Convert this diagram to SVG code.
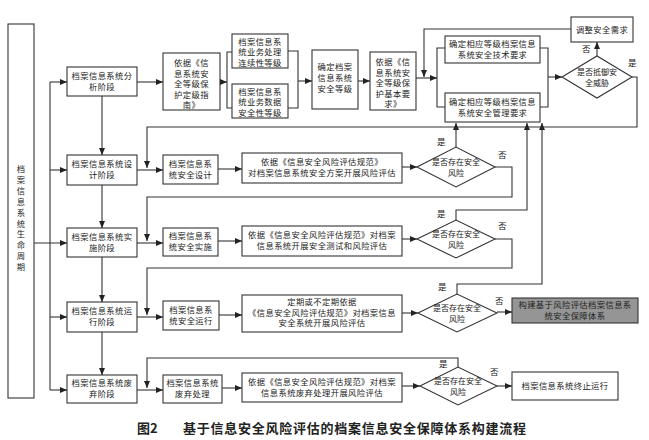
<svg xmlns="http://www.w3.org/2000/svg" width="649" height="440" viewBox="0 0 649 440">
<style>
.b{fill:#fff;stroke:#333;stroke-width:1.1}
.g{fill:#959595;stroke:#333;stroke-width:1.1}
.t{font-family:"Noto Sans CJK SC","Noto Sans",sans-serif;font-size:8.3px;fill:#222;text-anchor:middle;letter-spacing:0.4px}
.d{font-family:"Noto Sans CJK SC","Noto Sans",sans-serif;font-size:8px;fill:#222;text-anchor:middle}
.l{font-family:"Noto Sans CJK SC","Noto Sans",sans-serif;font-size:8.5px;fill:#222}
.c{fill:none;stroke:#333;stroke-width:1.1}
.cap{font-family:"Noto Sans CJK SC","Noto Sans",sans-serif;font-size:13px;font-weight:bold;fill:#222}
</style>
<defs>
<marker id="a" markerUnits="userSpaceOnUse" markerWidth="7" markerHeight="6" refX="7" refY="3" orient="auto">
<path d="M0,0 L7,3 L0,6 z" fill="#222"/>
</marker>
</defs>
<rect width="649" height="440" fill="#fff"/>

<g id="lifecycle">
<rect class="b" x="8" y="24" width="26" height="374"/>
<text class="t" x="21" y="172"><tspan x="21">档</tspan><tspan x="21" dy="10.9">案</tspan><tspan x="21" dy="10.9">信</tspan><tspan x="21" dy="10.9">息</tspan><tspan x="21" dy="10.9">系</tspan><tspan x="21" dy="10.9">统</tspan><tspan x="21" dy="10.9">生</tspan><tspan x="21" dy="10.9">命</tspan><tspan x="21" dy="10.9">周</tspan><tspan x="21" dy="10.9">期</tspan></text>
</g>

<g id="stage1"><rect class="b" x="67" y="67" width="70" height="29"/><text class="t" x="102" y="79">档案信息系统分<tspan x="102" dy="11">析阶段</tspan></text></g>
<g id="stage2"><rect class="b" x="67" y="155" width="70" height="30"/><text class="t" x="102" y="167">档案信息系统设<tspan x="102" dy="11">计阶段</tspan></text></g>
<g id="stage3"><rect class="b" x="67" y="228" width="70" height="29"/><text class="t" x="102" y="240">档案信息系统实<tspan x="102" dy="11">施阶段</tspan></text></g>
<g id="stage4"><rect class="b" x="67" y="302" width="70" height="30"/><text class="t" x="102" y="314">档案信息系统运<tspan x="102" dy="11">行阶段</tspan></text></g>
<g id="stage5"><rect class="b" x="67" y="375" width="70" height="28"/><text class="t" x="102" y="386">档案信息系统废<tspan x="102" dy="11">弃阶段</tspan></text></g>

<g id="guide1"><rect class="b" x="163" y="53" width="57" height="57"/><text class="t" x="191.5" y="66">依据《信<tspan x="191.5" dy="10.5">息系统安</tspan><tspan x="191.5" dy="10.5">全等级保</tspan><tspan x="191.5" dy="10.5">护定级指</tspan><tspan x="191.5" dy="10.5">南》</tspan></text></g>
<g id="level1"><rect class="b" x="232" y="34" width="56" height="34"/><text class="t" x="260" y="44.5">档案信息系<tspan x="260" dy="10.5">统业务处理</tspan><tspan x="260" dy="10.5">连续性等级</tspan></text></g>
<g id="level2"><rect class="b" x="232" y="84" width="56" height="34"/><text class="t" x="260" y="94.5">档案信息系<tspan x="260" dy="10.5">统业务数据</tspan><tspan x="260" dy="10.5">安全性等级</tspan></text></g>
<g id="determine"><rect class="b" x="312" y="50" width="46" height="59"/><text class="t" x="335" y="70">确定档案<tspan x="335" dy="11">信息系统</tspan><tspan x="335" dy="11">安全等级</tspan></text></g>
<g id="guide2"><rect class="b" x="370" y="52" width="46" height="58"/><text class="t" x="393" y="65">依据《信<tspan x="393" dy="10.5">息系统安</tspan><tspan x="393" dy="10.5">全等级保</tspan><tspan x="393" dy="10.5">护基本要</tspan><tspan x="393" dy="10.5">求》</tspan></text></g>
<g id="techreq"><rect class="b" x="445" y="36" width="95" height="27"/><text class="t" x="492.5" y="47">确定相应等级档案信息<tspan x="492.5" dy="11">系统安全技术要求</tspan></text></g>
<g id="mgmtreq"><rect class="b" x="445" y="93" width="95" height="29"/><text class="t" x="492.5" y="105">确定相应等级档案信息<tspan x="492.5" dy="11">系统安全管理要求</tspan></text></g>
<g id="threat"><polygon class="b" points="562,77 597,56 632,77 597,98"/><text class="d" x="597" y="75">是否抵御安<tspan x="597" dy="11">全威胁</tspan></text></g>
<g id="adjust"><rect class="b" x="571" y="17" width="62" height="25"/><text class="t" x="602" y="32.5">调整安全需求</text></g>

<g id="design"><rect class="b" x="163" y="155" width="55" height="29"/><text class="t" x="190.5" y="167">档案信息系<tspan x="190.5" dy="11">统安全设计</tspan></text></g>
<g id="assess2"><rect class="b" x="242" y="153" width="160" height="30"/><text class="t" x="322" y="165">依据《信息安全风险评估规范》<tspan x="322" dy="11">对档案信息系统安全方案开展风险评估</tspan></text></g>
<g id="risk2"><polygon class="b" points="417,167 456,147 495,167 456,187"/><text class="d" x="456" y="165">是否存在安全<tspan x="456" dy="11">风险</tspan></text></g>

<g id="implement"><rect class="b" x="163" y="228" width="55" height="28"/><text class="t" x="190.5" y="239">档案信息系<tspan x="190.5" dy="11">统安全实施</tspan></text></g>
<g id="assess3"><rect class="b" x="242" y="226" width="160" height="30"/><text class="t" x="322" y="238">依据《信息安全风险评估规范》对档案<tspan x="322" dy="11">信息系统开展安全测试和风险评估</tspan></text></g>
<g id="risk3"><polygon class="b" points="417,239 456,220 495,239 456,258"/><text class="d" x="456" y="237">是否存在安全<tspan x="456" dy="11">风险</tspan></text></g>

<g id="operate"><rect class="b" x="163" y="301" width="56" height="29"/><text class="t" x="191" y="313">档案信息系<tspan x="191" dy="11">统安全运行</tspan></text></g>
<g id="assess4"><rect class="b" x="242" y="295" width="160" height="37"/><text class="t" x="322" y="305">定期或不定期依据<tspan x="322" dy="10.5">《信息安全风险评估规范》对档案信息</tspan><tspan x="322" dy="10.5">安全系统开展风险评估</tspan></text></g>
<g id="risk4"><polygon class="b" points="418,313 457,294 497,313 457,332"/><text class="d" x="457" y="311">是否存在安全<tspan x="457" dy="11">风险</tspan></text></g>
<g id="build"><rect class="g" x="512" y="298" width="126" height="25"/><text class="t" x="575" y="308">构建基于风险评估档案信息系<tspan x="575" dy="11">统安全保障体系</tspan></text></g>

<g id="dispose"><rect class="b" x="163" y="375" width="59" height="28"/><text class="t" x="192.5" y="386">档案信息系统<tspan x="192.5" dy="11">废弃处理</tspan></text></g>
<g id="assess5"><rect class="b" x="242" y="373" width="160" height="29"/><text class="t" x="322" y="385">依据《信息安全风险评估规范》对档案<tspan x="322" dy="11">信息系统废弃处理开展风险评估</tspan></text></g>
<g id="risk5"><polygon class="b" points="420,386 458,367 497,386 458,405"/><text class="d" x="458" y="384">是否存在安全<tspan x="458" dy="11">风险</tspan></text></g>
<g id="terminate"><rect class="b" x="512" y="372" width="106" height="28"/><text class="t" x="565" y="389">档案信息系统终止运行</text></g>

<g id="connectors">
<path class="c" d="M50,82 V390"/>
<path class="c" d="M50,82 H67" marker-end="url(#a)"/>
<path class="c" d="M50,170 H67" marker-end="url(#a)"/>
<path class="c" d="M34,243 H67" marker-end="url(#a)"/>
<path class="c" d="M50,317 H67" marker-end="url(#a)"/>
<path class="c" d="M50,390 H67" marker-end="url(#a)"/>
<path class="c" d="M102,96 V155" marker-end="url(#a)"/>
<path class="c" d="M102,185 V228" marker-end="url(#a)"/>
<path class="c" d="M102,257 V302" marker-end="url(#a)"/>
<path class="c" d="M102,332 V375" marker-end="url(#a)"/>

<path class="c" d="M137,82 H163" marker-end="url(#a)"/>
<path class="c" d="M220,82 H227" marker-end="url(#a)"/>
<path class="c" d="M232,52 H227 V108 H232"/>
<path class="c" d="M288,51 H298 V108 H288"/>
<path class="c" d="M298,81 H312" marker-end="url(#a)"/>
<path class="c" d="M358,81 H370" marker-end="url(#a)"/>
<path class="c" d="M416,78 H437" marker-end="url(#a)"/>
<path class="c" d="M445,48 H437 V107 H445"/>
<path class="c" d="M571,29 H424 V77" marker-end="url(#a)"/>
<path class="c" d="M540,48 H548 V107 H540"/>
<path class="c" d="M548,77 H562" marker-end="url(#a)"/>
<path class="c" d="M597,56 V42" marker-end="url(#a)"/>
<path class="c" d="M632,77 H637 V127 H147 V168" marker-end="url(#a)"/>

<path class="c" d="M137,170 H163" marker-end="url(#a)"/>
<path class="c" d="M218,169 H242" marker-end="url(#a)"/>
<path class="c" d="M402,167 H417" marker-end="url(#a)"/>
<path class="c" d="M456,147 V123" marker-end="url(#a)"/>
<path class="c" d="M495,167 H512 V197 H147 V241" marker-end="url(#a)"/>

<path class="c" d="M137,243 H163" marker-end="url(#a)"/>
<path class="c" d="M218,241 H242" marker-end="url(#a)"/>
<path class="c" d="M402,239 H417" marker-end="url(#a)"/>
<path class="c" d="M456,220 V210 H527 V123" marker-end="url(#a)"/>
<path class="c" d="M495,239 H512 V268 H147 V315" marker-end="url(#a)"/>

<path class="c" d="M137,317 H163" marker-end="url(#a)"/>
<path class="c" d="M219,315 H242" marker-end="url(#a)"/>
<path class="c" d="M402,313 H418" marker-end="url(#a)"/>
<path class="c" d="M457,294 V284 H542 V123" marker-end="url(#a)"/>
<path class="c" d="M497,312 H512" marker-end="url(#a)"/>

<path class="c" d="M137,390 H163" marker-end="url(#a)"/>
<path class="c" d="M222,388 H242" marker-end="url(#a)"/>
<path class="c" d="M402,386 H420" marker-end="url(#a)"/>
<path class="c" d="M458,367 V358 H147 V388" marker-end="url(#a)"/>
<path class="c" d="M497,386 H512" marker-end="url(#a)"/>
</g>

<g id="labels">
<text class="l" x="582" y="52">否</text>
<text class="l" x="628" y="66">是</text>
<text class="l" x="437" y="145">是</text>
<text class="l" x="498" y="158">否</text>
<text class="l" x="437" y="217">是</text>
<text class="l" x="498" y="229">否</text>
<text class="l" x="438" y="290">是</text>
<text class="l" x="495" y="304">否</text>
<text class="l" x="439" y="367">是</text>
<text class="l" x="490" y="375">否</text>
</g>

<text class="cap" x="137" y="433">图2<tspan x="183" letter-spacing="0.75">基于信息安全风险评估的档案信息安全保障体系构建流程</tspan></text>
</svg>
